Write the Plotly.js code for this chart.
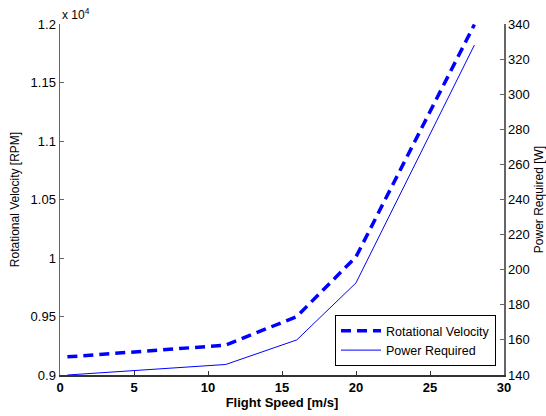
<!DOCTYPE html>
<html>
<head>
<meta charset="utf-8">
<script src="https://cdn.plot.ly/plotly-3.0.1.min.js"></script>
<style>html,body{margin:0;padding:0;background:#fff;}#chart{width:546px;height:416px;}</style>
</head>
<body>
<div id="chart"></div>
<script>
// Data
const flightSpeed = [0.5, 11.2, 16, 20, 28];
const rotationalVelocity = [9155, 9255, 9500, 10010, 11995]; // RPM
const powerRequired = [140, 146, 160, 192.5, 328]; // W

const leftTickVals = [9000, 9500, 10000, 10500, 11000, 11500, 12000];
const leftTickText = ['0.9', '0.95', '1', '1.05', '1.1', '1.15', '1.2'];
const rightTickVals = [140, 160, 180, 200, 220, 240, 260, 280, 300, 320, 340];
const xTickVals = [0, 5, 10, 15, 20, 25, 30];

const fontFam = 'Liberation Sans, Arial, sans-serif';

const traces = [
  {
    x: flightSpeed, y: rotationalVelocity, name: 'Rotational Velocity',
    type: 'scatter', mode: 'lines', yaxis: 'y',
    line: {color: '#0000ff', width: 3.5, dash: '10px,6px'}
  },
  {
    x: flightSpeed, y: powerRequired, name: 'Power Required',
    type: 'scatter', mode: 'lines', yaxis: 'y2',
    line: {color: '#0000ff', width: 1}
  }
];

const layout = {
  width: 546, height: 416,
  margin: {l: 60, r: 42, t: 24, b: 41, pad: 0},
  paper_bgcolor: '#fff', plot_bgcolor: '#fff',
  font: {family: fontFam, size: 13, color: '#000'},
  showlegend: true,
  legend: {
    x: 0.982, y: 0.025, xanchor: 'right', yanchor: 'bottom',
    bgcolor: '#fff', bordercolor: '#000', borderwidth: 1,
    font: {family: fontFam, size: 12.5, color: '#000'},
    tracegroupgap: 0, itemwidth: 40
  },
  xaxis: {
    range: [0, 30], tickvals: xTickVals,
    ticks: 'inside', ticklen: 4, tickcolor: '#333', tickwidth: 1,
    showline: true, linecolor: '#333', linewidth: 1.5,
    showgrid: false, zeroline: false, mirror: false,
    tickfont: {family: fontFam, size: 13, weight: 'bold', color: '#000'},
    title: {text: 'Flight Speed [m/s]', font: {family: fontFam, size: 13, weight: 'bold', color: '#000'}, standoff: 4}
  },
  yaxis: {
    range: [9000, 12000], tickvals: leftTickVals, ticktext: leftTickText,
    ticks: 'inside', ticklen: 4, tickcolor: '#666', tickwidth: 1,
    showline: true, linecolor: '#666', linewidth: 1.5,
    showgrid: false, zeroline: false,
    tickfont: {family: fontFam, size: 13, color: '#000'},
    title: {text: 'Rotational Velocity [RPM]', font: {family: fontFam, size: 12, color: '#000'}, standoff: 8}
  },
  yaxis2: {
    range: [140, 340], tickvals: rightTickVals,
    overlaying: 'y', side: 'right', anchor: 'x',
    ticks: 'inside', ticklen: 4, tickcolor: '#666', tickwidth: 1,
    showline: true, linecolor: '#666', linewidth: 1.5,
    showgrid: false, zeroline: false,
    tickfont: {family: fontFam, size: 13, color: '#000'},
    title: {text: 'Power Required [W]', font: {family: fontFam, size: 12, color: '#000'}, standoff: 9}
  },
  annotations: [
    {
      xref: 'paper', yref: 'paper', x: 0, y: 1, xanchor: 'left', yanchor: 'bottom',
      text: 'x 10<sup>4</sup>', showarrow: false, yshift: 0,
      font: {family: fontFam, size: 12, color: '#000'}
    }
  ]
};

Plotly.newPlot('chart', traces, layout, {displayModeBar: false, staticPlot: true});
</script>
</body>
</html>
